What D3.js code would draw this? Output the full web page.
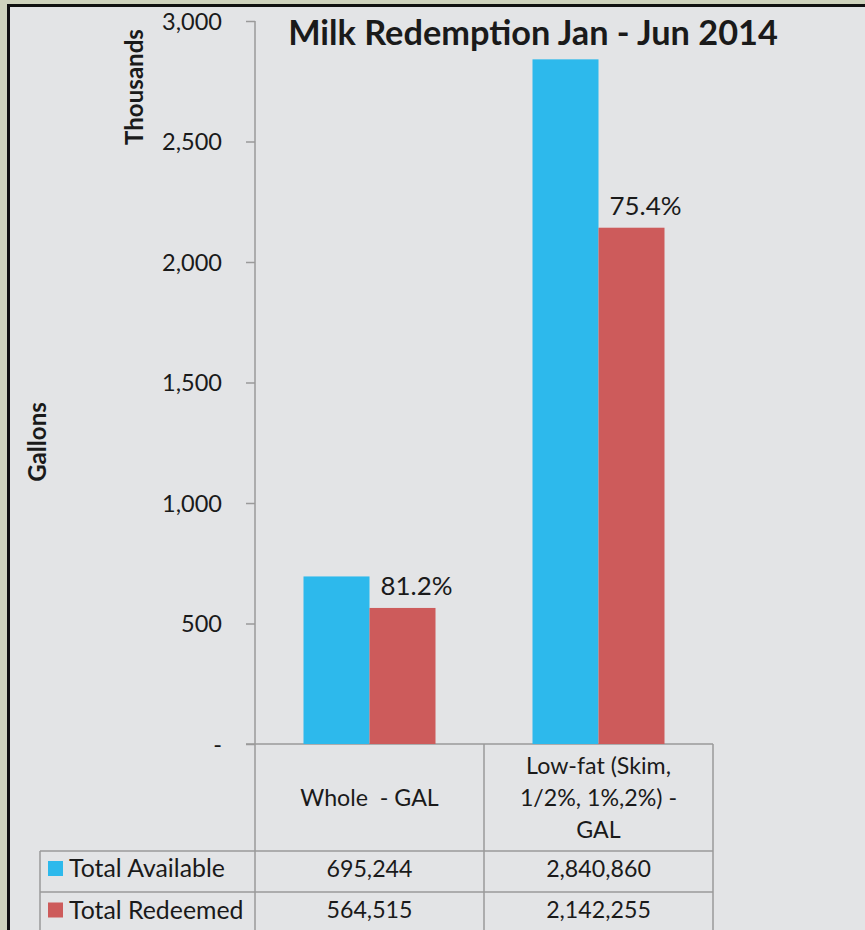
<!DOCTYPE html>
<html>
<head>
<meta charset="utf-8">
<script src="https://cdn.jsdelivr.net/npm/d3@7"></script>
<style>
  html, body { margin: 0; padding: 0; background: #cfd3bd; }
  svg { display: block; }
  text { font-family: Lato, "Open Sans", sans-serif; fill: #1a1a1a; }
</style>
</head>
<body>
<svg id="chart" width="865" height="930"></svg>
<script>
// ---- data ----
const categories = ["Whole  - GAL", "Low-fat (Skim, 1/2%, 1%,2%) - GAL"];
const categoryLines = [["Whole  - GAL"], ["Low-fat (Skim,", "1/2%, 1%,2%) -", "GAL"]];
const seriesNames = ["Total Available", "Total Redeemed"];
const totalAvailable = [695244, 2840860];
const totalRedeemed = [564515, 2142255];
const yTickValues = [0, 500, 1000, 1500, 2000, 2500, 3000];
const yTickLabels = ["-", "500", "1,000", "1,500", "2,000", "2,500", "3,000"];
const title = "Milk Redemption Jan - Jun 2014";
const colors = ["#2db9ec", "#cd5b5b"];

// ---- layout ----
const svg = d3.select("#chart");
const W = 865, H = 930;
const plotLeft = 255, plotRight = 713, plotTop = 21, plotBottom = 744;
const rowY = [851, 892, 934];
const tableLeft = 40;
const lineColor = "#9a9a9a";

svg.append("rect").attr("x", 0).attr("y", 0).attr("width", W).attr("height", H).attr("fill", "#cfd3bd");
svg.append("rect").attr("x", 8.5).attr("y", 5.5).attr("width", W + 20).attr("height", H + 20)
  .attr("fill", "#e3e4e6").attr("stroke", "#111").attr("stroke-width", 3);

const y = d3.scaleLinear().domain([0, 3000]).range([plotBottom, plotTop]);
const x0 = d3.scaleBand().domain(categories).range([plotLeft, plotRight]).paddingInner(0).paddingOuter(0);
const x1 = d3.scaleBand().domain(seriesNames).range([0, x0.bandwidth()]).paddingInner(0).paddingOuter(0.735);

function fitSize(sel, target) {
  const w = sel.node().getComputedTextLength();
  const fs = parseFloat(sel.attr("font-size"));
  return fs * target / w;
}

// measure font sizes
const probe = svg.append("text").attr("font-size", 20).text("695,244");
const fsTable = fitSize(probe, 86);
probe.text("Total Available");
const fsLegend = fitSize(probe, 156);
probe.text("3,000");
const fsTick = fitSize(probe, 60);
probe.text("81.2%");
const fsLabel = fitSize(probe, 72);
probe.attr("font-weight", "bold").text(title);
const fsTitle = fitSize(probe, 490);
probe.text("Thousands");
const fsAxisTitle = fitSize(probe, 116);
probe.remove();

// y axis
const yAxis = d3.axisLeft(y).tickValues(yTickValues).tickSize(9).tickPadding(24)
  .tickFormat((d, i) => yTickLabels[i]);
const gy = svg.append("g").attr("transform", `translate(${plotLeft},0)`).call(yAxis);
gy.select(".domain").remove();
gy.selectAll(".tick line").attr("stroke", lineColor).attr("stroke-width", 1.5);
gy.selectAll(".tick text").attr("font-size", fsTick).attr("font-family", "Lato, sans-serif")
  .attr("fill", "#222").attr("dy", "0.36em");

// gridlines / table lines
const lines = svg.append("g").attr("stroke", lineColor).attr("stroke-width", 1.5);
lines.append("line").attr("x1", plotLeft).attr("x2", plotLeft).attr("y1", plotTop).attr("y2", H);
lines.append("line").attr("x1", plotLeft - 9).attr("x2", plotRight).attr("y1", plotBottom).attr("y2", plotBottom);
categories.forEach(c => {
  const xr = x0(c) + x0.bandwidth();
  lines.append("line").attr("x1", xr).attr("x2", xr).attr("y1", plotBottom).attr("y2", H);
});
rowY.slice(0, 2).forEach(yy => {
  lines.append("line").attr("x1", tableLeft).attr("x2", plotRight).attr("y1", yy).attr("y2", yy);
});
lines.append("line").attr("x1", tableLeft).attr("x2", tableLeft).attr("y1", rowY[0]).attr("y2", H);

// bars
const seriesData = [totalAvailable, totalRedeemed];
const barData = [];
categories.forEach((c, ci) => seriesNames.forEach((s, si) => {
  barData.push({ c, s, si, v: seriesData[si][ci] / 1000 });
}));
svg.append("g").selectAll("rect").data(barData).join("rect")
  .attr("x", d => x0(d.c) + x1(d.s))
  .attr("y", d => y(d.v))
  .attr("width", x1.bandwidth())
  .attr("height", d => y(0) - y(d.v))
  .attr("fill", d => colors[d.si]);

// percentage labels
const pct = d3.format(".1%");
svg.append("g").selectAll("text").data(categories).join("text")
  .attr("x", (c, i) => x0(c) + x1(seriesNames[1]) + x1.bandwidth() / 2 + 14)
  .attr("y", (c, i) => y(totalRedeemed[i] / 1000) - 13)
  .attr("text-anchor", "middle")
  .attr("font-size", fsLabel)
  .text((c, i) => pct(totalRedeemed[i] / totalAvailable[i]));

// title
svg.append("text").attr("x", 533).attr("y", 45).attr("text-anchor", "middle")
  .attr("font-weight", "bold").attr("font-size", fsTitle).attr("fill", "#000").text(title);

// axis titles
svg.append("text").attr("transform", "translate(143,87) rotate(-90)").attr("text-anchor", "middle")
  .attr("font-weight", "bold").attr("font-size", fsAxisTitle).attr("fill", "#000").text("Thousands");
svg.append("text").attr("transform", "translate(46,442) rotate(-90)").attr("text-anchor", "middle")
  .attr("font-weight", "bold").attr("font-size", fsAxisTitle).attr("fill", "#000").text("Gallons");

// category header labels
const headerMid = (plotBottom + rowY[0]) / 2;
const lh = 32;
categories.forEach((c, ci) => {
  const ls = categoryLines[ci];
  const t = svg.append("text").attr("text-anchor", "middle").attr("font-size", fsTable)
    .style("white-space", "pre").attr("fill", "#222");
  ls.forEach((l, li) => {
    t.append("tspan").attr("x", x0(c) + x0.bandwidth() / 2)
      .attr("y", headerMid + (li - (ls.length - 1) / 2) * lh)
      .attr("dy", "0.36em").text(l);
  });
});

// table values
const fmt = d3.format(",");
seriesNames.forEach((s, si) => {
  const yc = (rowY[si] + rowY[si + 1]) / 2 - 3;
  categories.forEach((c, ci) => {
    svg.append("text").attr("x", x0(c) + x0.bandwidth() / 2).attr("y", yc).attr("dy", "0.36em")
      .attr("text-anchor", "middle").attr("font-size", fsTable).attr("fill", "#222")
      .text(fmt(seriesData[si][ci]));
  });
  svg.append("rect").attr("x", 48).attr("y", yc - 7.5).attr("width", 15).attr("height", 15).attr("fill", colors[si]);
  svg.append("text").attr("x", 69).attr("y", yc).attr("dy", "0.36em")
    .attr("font-size", fsLegend).attr("fill", "#222").text(s);
});
</script>
</body>
</html>
